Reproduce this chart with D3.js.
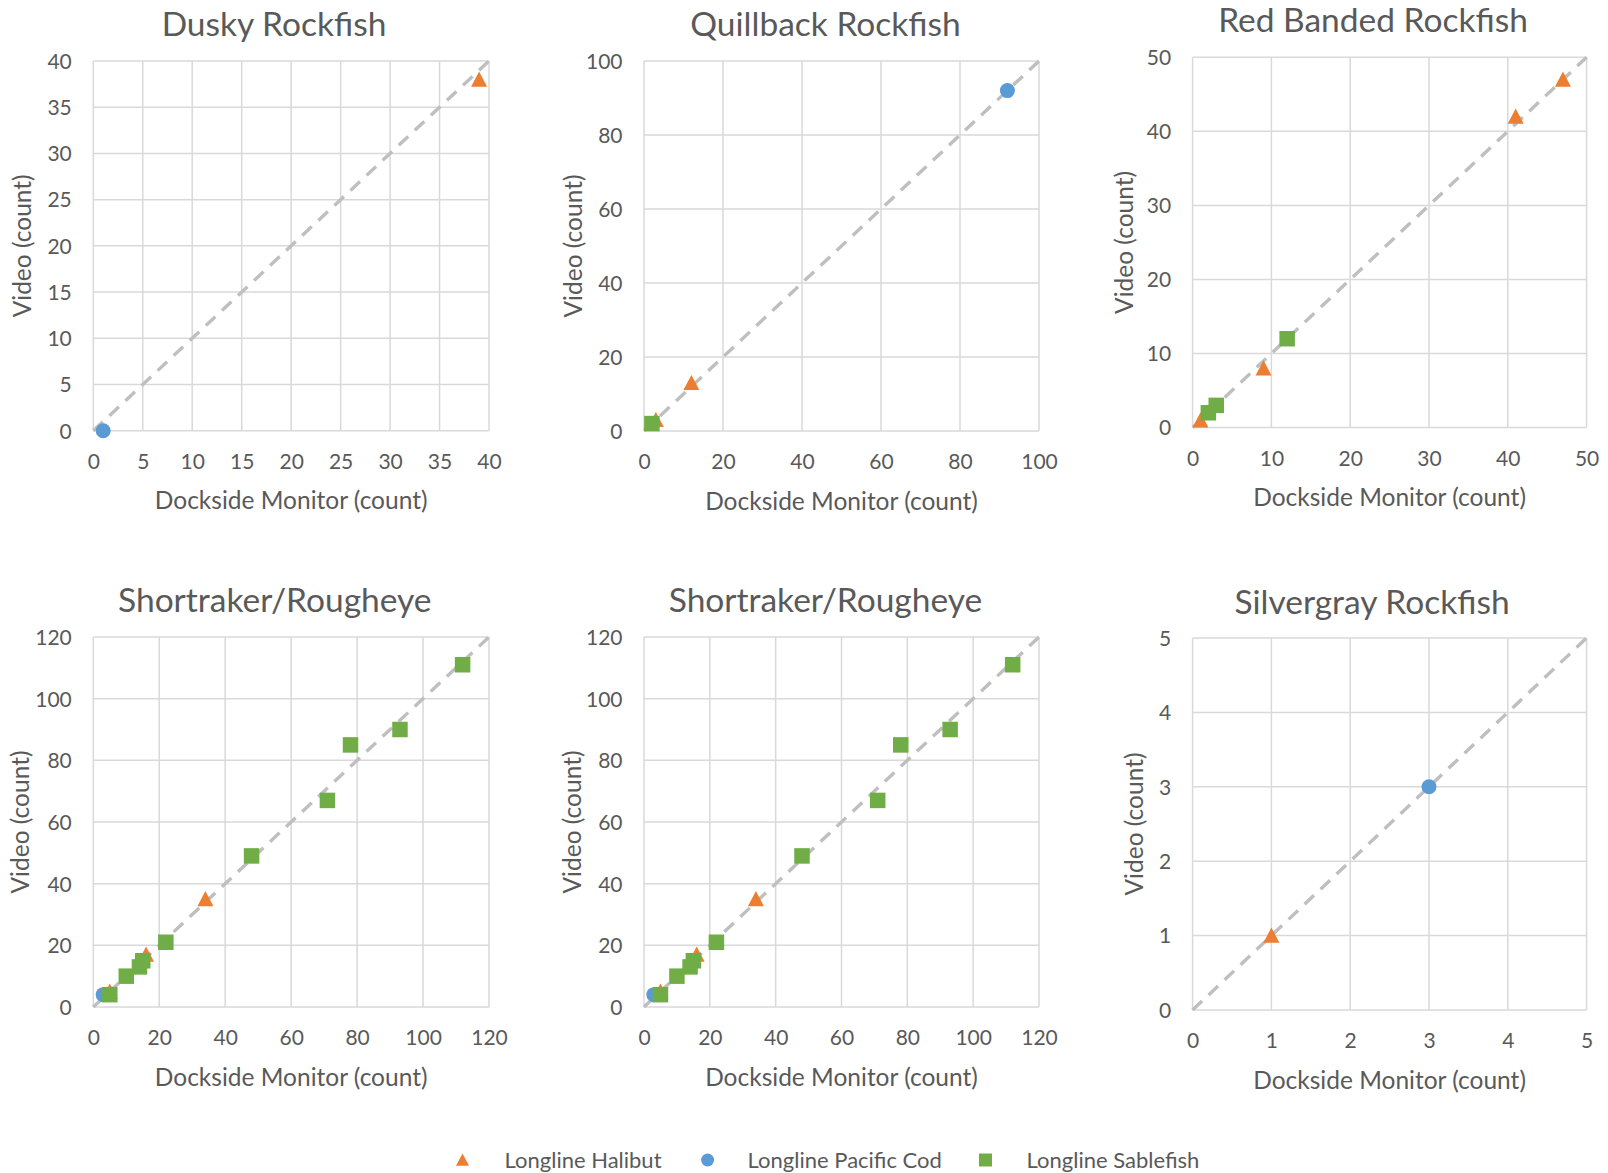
<!DOCTYPE html>
<html>
<head>
<meta charset="utf-8">
<script src="https://cdn.jsdelivr.net/npm/d3@7"></script>
<style>
  html, body { margin: 0; padding: 0; background: #ffffff; }
  svg { display: block; font-family: Lato, "Open Sans", sans-serif; }
</style>
</head>
<body>
<svg id="chart" width="1608" height="1173"></svg>
<script>
// ---------------- DATA ----------------
const seriesNames = ["Longline Halibut", "Longline Pacific Cod", "Longline Sablefish"];
const panelTitles = ["Dusky Rockfish", "Quillback Rockfish", "Red Banded Rockfish",
                     "Shortraker/Rougheye", "Shortraker/Rougheye", "Silvergray Rockfish"];
const xAxisLabel = "Dockside Monitor (count)";
const yAxisLabel = "Video (count)";

// tick labels per panel (both axes share the same ticks)
const duskyTicks      = [0, 5, 10, 15, 20, 25, 30, 35, 40];
const quillbackTicks  = [0, 20, 40, 60, 80, 100];
const redBandedTicks  = [0, 10, 20, 30, 40, 50];
const shortrakerTicks = [0, 20, 40, 60, 80, 100, 120];
const silvergrayTicks = [0, 1, 2, 3, 4, 5];

// points: [dockside monitor, video]
const duskyHalibut      = [[39, 38]];
const duskyCod          = [[1, 0]];
const duskySablefish    = [];

const quillbackHalibut  = [[3, 3], [12, 13]];
const quillbackCod      = [[92, 92]];
const quillbackSablefish= [[2, 2]];

const redBandedHalibut  = [[1, 1], [9, 8], [41, 42], [47, 47]];
const redBandedCod      = [];
const redBandedSablefish= [[2, 2], [3, 3], [12, 12]];

const shortrakerHalibut   = [[5, 5], [16, 17], [34, 35]];
const shortrakerCod       = [[3, 4]];
const shortrakerSablefish = [[5, 4], [10, 10], [14, 13], [15, 15], [22, 21], [48, 49],
                             [71, 67], [78, 85], [93, 90], [112, 111]];

const silvergrayHalibut   = [[1, 1]];
const silvergrayCod       = [[3, 3]];
const silvergraySablefish = [];

// ---------------- LAYOUT / STYLE ----------------
const colors = ["#ED7D31", "#5B9BD5", "#70AD47"];
const textColor = "#595959";
const gridColor = "#D9D9D9";

const panels = [
  { title: panelTitles[0], ticks: duskyTicks,      data: [duskyHalibut, duskyCod, duskySablefish],
    left: 93.3, top: 61,   w: 395.7, h: 369.7, titleX: 274, titleY: 36,  yTitleX: 22.6 },
  { title: panelTitles[1], ticks: quillbackTicks,  data: [quillbackHalibut, quillbackCod, quillbackSablefish],
    left: 644,  top: 61,   w: 395,   h: 370,   titleX: 825.5, titleY: 36, yTitleX: 573 },
  { title: panelTitles[2], ticks: redBandedTicks,  data: [redBandedHalibut, redBandedCod, redBandedSablefish],
    left: 1192.6, top: 57.3, w: 394, h: 370.3, titleX: 1373, titleY: 32, yTitleX: 1124 },
  { title: panelTitles[3], ticks: shortrakerTicks, data: [shortrakerHalibut, shortrakerCod, shortrakerSablefish],
    left: 93.3, top: 637,  w: 395.7, h: 370,   titleX: 274.8, titleY: 612, yTitleX: 20.5 },
  { title: panelTitles[4], ticks: shortrakerTicks, data: [shortrakerHalibut, shortrakerCod, shortrakerSablefish],
    left: 644,  top: 637,  w: 395,   h: 370,   titleX: 825.5, titleY: 612, yTitleX: 572 },
  { title: panelTitles[5], ticks: silvergrayTicks, data: [silvergrayHalibut, silvergrayCod, silvergraySablefish],
    left: 1192.6, top: 638, w: 394, h: 372,   titleX: 1372, titleY: 614, yTitleX: 1134 }
];

const svg = d3.select("#chart");

function markerPath(kind, s) {
  const h = s / 2;
  if (kind === 0) { // triangle
    return `M0,${-h}L${h},${h * 0.9}L${-h},${h * 0.9}Z`;
  } else if (kind === 1) { // circle
    return d3.symbol(d3.symbolCircle, Math.PI * h * h)();
  }
  return `M${-h},${-h}H${h}V${h}H${-h}Z`;
}
const markerSizes = [16, 15, 15.5];

panels.forEach(p => {
  const max = p.ticks[p.ticks.length - 1];
  const x = d3.scaleLinear().domain([0, max]).range([p.left, p.left + p.w]);
  const y = d3.scaleLinear().domain([0, max]).range([p.top + p.h, p.top]);
  const g = svg.append("g");

  // title
  g.append("text").attr("x", p.titleX).attr("y", p.titleY)
    .attr("text-anchor", "middle").attr("font-size", 33.5).attr("fill", textColor)
    .text(p.title);

  // gridlines
  g.append("g").selectAll("line.v").data(p.ticks).join("line")
    .attr("x1", d => x(d)).attr("x2", d => x(d))
    .attr("y1", p.top).attr("y2", p.top + p.h)
    .attr("stroke", gridColor).attr("stroke-width", 1.5);
  g.append("g").selectAll("line.h").data(p.ticks).join("line")
    .attr("x1", p.left).attr("x2", p.left + p.w)
    .attr("y1", d => y(d)).attr("y2", d => y(d))
    .attr("stroke", gridColor).attr("stroke-width", 1.5);

  // axes (labels only)
  const xAxis = d3.axisBottom(x).tickValues(p.ticks).tickSize(0).tickPadding(0).tickFormat(d3.format("d"));
  const xg = g.append("g").attr("transform", `translate(0,${p.top + p.h + 31})`).call(xAxis);
  xg.select(".domain").remove();
  xg.selectAll("text").attr("dy", "0.35em").attr("font-size", 21).attr("fill", textColor)
    .attr("font-family", "Lato, 'Open Sans', sans-serif");

  const yAxis = d3.axisLeft(y).tickValues(p.ticks).tickSize(0).tickPadding(0).tickFormat(d3.format("d"));
  const yg = g.append("g").attr("transform", `translate(${p.left - 21.5},0)`).call(yAxis);
  yg.select(".domain").remove();
  yg.selectAll("text").attr("dy", "0.35em").attr("font-size", 21).attr("fill", textColor)
    .attr("font-family", "Lato, 'Open Sans', sans-serif");

  // axis titles
  g.append("text").attr("x", p.left + p.w / 2).attr("y", p.top + p.h + 70)
    .attr("dy", "0.35em").attr("text-anchor", "middle").attr("font-size", 24.5)
    .attr("fill", textColor).text(xAxisLabel);
  g.append("text")
    .attr("transform", `translate(${p.yTitleX},${p.top + p.h / 2}) rotate(-90)`)
    .attr("dy", "0.35em").attr("text-anchor", "middle").attr("font-size", 24.5)
    .attr("fill", textColor).text(yAxisLabel);

  // 1:1 dashed line
  g.append("line")
    .attr("x1", x(0)).attr("y1", y(0)).attr("x2", x(max)).attr("y2", y(max))
    .attr("stroke", "#BFBFBF").attr("stroke-width", 3.4).attr("stroke-dasharray", "13,9");

  // points
  p.data.forEach((pts, si) => {
    g.append("g").selectAll("path").data(pts).join("path")
      .attr("transform", d => `translate(${x(d[0])},${y(d[1])})`)
      .attr("d", markerPath(si, markerSizes[si]))
      .attr("fill", colors[si]);
  });
});

// legend
const legendItems = [
  { sym: 462.5, text: 504.5 },
  { sym: 707.6, text: 747.6 },
  { sym: 985.5, text: 1026.5 }
];
const legendY = 1160;
const lg = svg.append("g");
seriesNames.forEach((name, i) => {
  lg.append("path")
    .attr("transform", `translate(${legendItems[i].sym},${legendY})`)
    .attr("d", markerPath(i, 13))
    .attr("fill", colors[i]);
  lg.append("text").attr("x", legendItems[i].text).attr("y", legendY)
    .attr("dy", "0.35em").attr("font-size", 22).attr("fill", textColor).text(name);
});
</script>
</body>
</html>
